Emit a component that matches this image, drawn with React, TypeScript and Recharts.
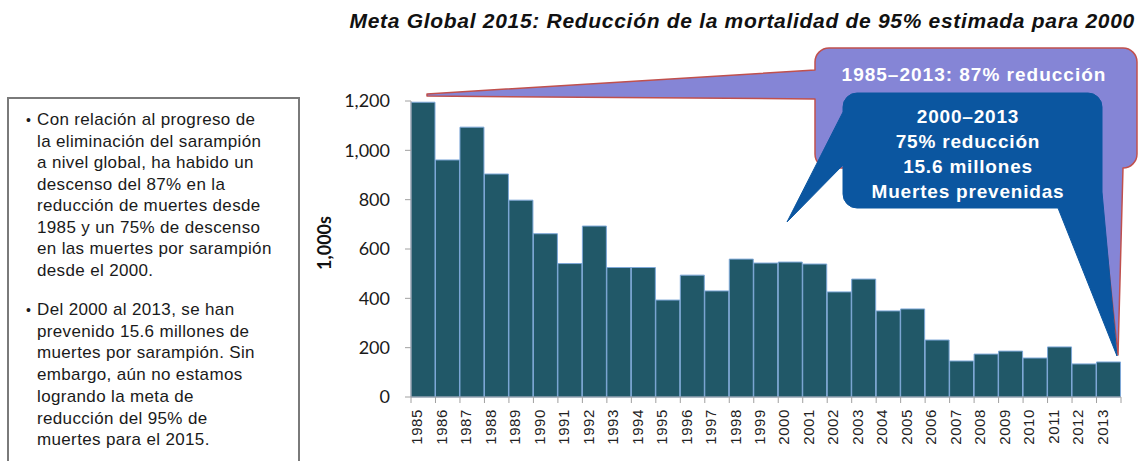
import React from "react";
import { BarChart, Bar, XAxis, YAxis } from "recharts";

const years: string[] = [
  "1985", "1986", "1987", "1988", "1989", "1990", "1991", "1992", "1993", "1994",
  "1995", "1996", "1997", "1998", "1999", "2000", "2001", "2002", "2003", "2004",
  "2005", "2006", "2007", "2008", "2009", "2010", "2011", "2012", "2013",
];
const deaths: number[] = [
  1195, 961, 1094, 904, 798, 662, 541, 693, 525, 525,
  393, 494, 430, 559, 543, 547, 539, 426, 478, 349,
  357, 231, 146, 174, 186, 158, 203, 134, 142,
];
const yTicks: number[] = [0, 200, 400, 600, 800, 1000, 1200];

const title = "Meta Global 2015: Reducción de la mortalidad de 95% estimada para 2000";
const yLabel = "1,000s";
const bullet1: string[] = [
  "Con relación al progreso de",
  "la eliminación del sarampión",
  "a nivel global, ha habido un",
  "descenso del 87% en la",
  "reducción de muertes desde",
  "1985 y un 75% de descenso",
  "en las muertes por sarampión",
  "desde el 2000.",
];
const bullet2: string[] = [
  "Del 2000 al 2013, se han",
  "prevenido 15.6 millones de",
  "muertes por sarampión. Sin",
  "embargo, aún no estamos",
  "logrando la meta de",
  "reducción del 95% de",
  "muertes para el 2015.",
];
const calloutPurple = "1985–2013: 87% reducción";
const calloutBlue: string[] = ["2000–2013", "75% reducción", "15.6 millones", "Muertes prevenidas"];

const data = years.map((y, i) => ({ year: y, value: deaths[i] }));

const TICK_SIZE = 6;
const TICK_MARGIN = 8;

const XTick = (props: any) => {
  const { x, y, payload, index } = props;
  const half = payload && payload.offset ? payload.offset : 12.25;
  const axisY = y - TICK_SIZE - TICK_MARGIN;
  const last = index === years.length - 1;
  const ty = y - 2;
  return (
    <g>
      <line x1={x - half} x2={x - half} y1={axisY} y2={axisY + TICK_SIZE} stroke="#a0a0a0" strokeWidth={1} />
      {last && (
        <line x1={x + half} x2={x + half} y1={axisY} y2={axisY + TICK_SIZE} stroke="#a0a0a0" strokeWidth={1} />
      )}
      <text
        x={x - 1}
        y={ty}
        transform={`rotate(-90 ${x - 1} ${ty})`}
        textAnchor="end"
        fontFamily="'Liberation Sans', Arial, sans-serif"
        fontSize={15}
        letterSpacing={0.6}
        fill="#222"
      >
        {payload.value}
      </text>
    </g>
  );
};

const sans = "'Liberation Sans', Arial, sans-serif";

export default function App() {
  return (
    <div style={{ position: "absolute", left: 0, top: 0, width: 1139, height: 461, background: "#fff", overflow: "hidden" }}>
      <BarChart
        width={1139}
        height={461}
        data={data}
        margin={{ top: 101, right: 18, bottom: 4, left: 351 }}
        barCategoryGap={0}
      >
        <XAxis
          dataKey="year"
          interval={0}
          tickLine={false}
          tickSize={TICK_SIZE}
          tickMargin={TICK_MARGIN}
          height={60}
          axisLine={{ stroke: "#a0a0a0" }}
          tick={(p: any) => <XTick {...p} />}
        />
        <YAxis
          width={60}
          domain={[0, 1200]}
          ticks={yTicks}
          interval={0}
          tickSize={TICK_SIZE}
          tickMargin={15}
          axisLine={{ stroke: "#a0a0a0" }}
          tickLine={{ stroke: "#a0a0a0" }}
          tickFormatter={(v: number) => v.toLocaleString("en-US")}
          tick={{ fontFamily: "Lato, sans-serif", fontSize: 18, fill: "#1a1a1a" }}
        />
        <Bar dataKey="value" fill="#215868" stroke="#7ea8d8" strokeWidth={1} isAnimationActive={false} />
      </BarChart>

      <svg width={1139} height={461} style={{ position: "absolute", left: 0, top: 0, pointerEvents: "none" }}>
        {/* title */}
        <text x={1135} y={28} textAnchor="end" fontFamily={sans} fontSize={21} fontWeight="bold" fontStyle="italic" letterSpacing={0.7} fill="#111">
          {title}
        </text>

        {/* y label */}
        <text
          x={331}
          y={243}
          transform="rotate(-90 331 243)"
          textAnchor="middle"
          fontFamily="Lato, sans-serif"
          fontSize={18}
          fontWeight="bold"
          fill="#111"
        >
          {yLabel}
        </text>

        {/* left text box */}
        <rect x={8} y={98} width={291} height={400} fill="#fff" stroke="#7a7a7a" strokeWidth={2} />
        <g fontFamily={sans} fontSize={17} fill="#1a1a1a" letterSpacing={0.35}>
          <text x={26} y={125} fontSize={14}>•</text>
          {bullet1.map((t, i) => (
            <text key={"a" + i} x={37} y={125 + i * 21.5}>{t}</text>
          ))}
          <text x={26} y={315} fontSize={14}>•</text>
          {bullet2.map((t, i) => (
            <text key={"b" + i} x={37} y={315 + i * 21.7}>{t}</text>
          ))}
        </g>

        {/* purple callout */}
        <path
          d="M 829 48 L 1123 48 A 14 14 0 0 1 1137 62 L 1137 154 A 14 14 0 0 1 1123 168 L 1118 355 L 1098 168 L 829 168 A 14 14 0 0 1 815 154 L 815 99 L 427 96 L 427 94 L 815 70 L 815 62 A 14 14 0 0 1 829 48 Z"
          fill="#8585d6"
          stroke="#c0504d"
          strokeWidth={1.5}
          strokeLinejoin="round"
        />
        <text x={974} y={81} textAnchor="middle" fontFamily={sans} fontSize={19} fontWeight="bold" letterSpacing={1} fill="#fff">
          {calloutPurple}
        </text>

        {/* blue callout */}
        <path
          d="M 857 93 L 1088 93 A 14 14 0 0 1 1102 107 L 1102 192 L 1117 356 L 1058 208 L 857 208 A 14 14 0 0 1 843 194 L 843 165 L 787 222 L 843 112 L 843 107 A 14 14 0 0 1 857 93 Z"
          fill="#0b56a0"
          stroke="#0b56a0"
          strokeWidth={1}
          strokeLinejoin="round"
        />
        <g fontFamily={sans} fontSize={19} fontWeight="bold" fill="#fff" textAnchor="middle" letterSpacing={0.8}>
          {calloutBlue.map((t, i) => (
            <text key={"c" + i} x={968} y={123 + i * 25}>{t}</text>
          ))}
        </g>
      </svg>
    </div>
  );
}
